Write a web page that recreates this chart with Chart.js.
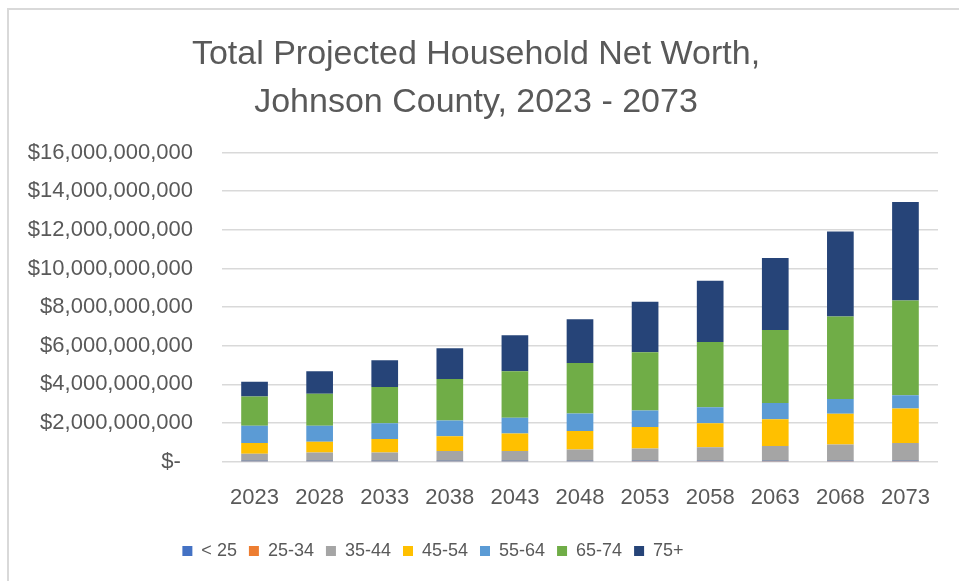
<!DOCTYPE html>
<html>
<head>
<meta charset="utf-8">
<title>Total Projected Household Net Worth</title>
<script src="https://cdn.jsdelivr.net/npm/chart.js@4"></script>
<style>
  html, body { margin: 0; padding: 0; background: #fff; }
  #wrap { position: relative; width: 959px; height: 581px; overflow: hidden; }
  #frame {
    position: absolute; left: 7px; top: 8px; width: 1000px; height: 700px;
    border: 2px solid #d9d9d9; pointer-events: none;
  }
</style>
</head>
<body>
<div id="wrap">
  <canvas id="netWorthChart" width="959" height="581"></canvas>
  <div id="frame"></div>
</div>
<script>
// values in billions of dollars
const BILLION = 1e9;
const years = ['2023', '2028', '2033', '2038', '2043', '2048', '2053', '2058', '2063', '2068', '2073'];
const under25 = [0.004, 0.004, 0.004, 0.005, 0.005, 0.005, 0.005, 0.006, 0.006, 0.006, 0.007];
const age25to34 = [0.015, 0.016, 0.017, 0.018, 0.018, 0.019, 0.020, 0.021, 0.022, 0.023, 0.024];
const age35to44 = [0.39, 0.45, 0.45, 0.53, 0.53, 0.60, 0.65, 0.72, 0.78, 0.85, 0.93];
const age45to54 = [0.55, 0.56, 0.70, 0.76, 0.90, 0.96, 1.12, 1.24, 1.39, 1.60, 1.79];
const age55to64 = [0.90, 0.83, 0.82, 0.82, 0.82, 0.90, 0.85, 0.83, 0.83, 0.76, 0.69];
const age65to74 = [1.51, 1.65, 1.87, 2.14, 2.41, 2.62, 3.01, 3.38, 3.79, 4.27, 4.90];
const age75plus = [0.76, 1.17, 1.38, 1.59, 1.86, 2.27, 2.62, 3.17, 3.72, 4.41, 5.10];
const yTicks = [0, 2, 4, 6, 8, 10, 12, 14, 16];

const TEXT = '#595959';
const FONT = 'Liberation Sans';

function series(label, values, color) {
  return {
    label: label,
    data: values.map(v => v * BILLION),
    backgroundColor: color,
    borderWidth: 0,
    barPercentage: 0.41,
    categoryPercentage: 1
  };
}

// Legend is centred under the whole chart in Excel, a bit left of the canvas centre
const legendShift = {
  id: 'legendShift',
  afterLayout(chart) {
    const dx = -43;
    chart.legend.left += dx;
    chart.legend.right += dx;
  }
};

const ctx = document.getElementById('netWorthChart').getContext('2d');
new Chart(ctx, {
  type: 'bar',
  data: {
    labels: years,
    datasets: [
      series('< 25', under25, '#4472C4'),
      series('25-34', age25to34, '#ED7D31'),
      series('35-44', age35to44, '#A5A5A5'),
      series('45-54', age45to54, '#FFC000'),
      series('55-64', age55to64, '#5B9BD5'),
      series('65-74', age65to74, '#70AD47'),
      series('75+', age75plus, '#264478')
    ]
  },
  options: {
    responsive: false,
    animation: false,
    layout: { padding: { left: 14, right: 21, top: 0, bottom: 11 } },
    plugins: {
      title: {
        display: true,
        text: ['Total Projected Household Net Worth,', 'Johnson County, 2023 - 2073'],
        color: TEXT,
        font: { family: FONT, size: 34, weight: 'normal', lineHeight: 1.42 },
        padding: { top: 30, bottom: 26 }
      },
      legend: {
        position: 'bottom',
        labels: {
          color: TEXT,
          font: { family: FONT, size: 18 },
          boxWidth: 10,
          boxHeight: 10,
          padding: 12
        }
      },
      tooltip: { enabled: false }
    },
    scales: {
      x: {
        stacked: true,
        grid: { display: false, drawTicks: false },
        border: { display: false },
        ticks: { color: TEXT, font: { family: FONT, size: 22 }, padding: 23, maxRotation: 0 },
        afterFit: scale => { scale.height -= 4; }
      },
      y: {
        stacked: true,
        min: 0,
        max: yTicks[yTicks.length - 1] * BILLION,
        afterBuildTicks: scale => { scale.ticks = yTicks.map(v => ({ value: v * BILLION })); },
        grid: { color: '#d9d9d9', lineWidth: 1.5, drawTicks: false },
        border: { display: false },
        ticks: {
          color: TEXT,
          font: { family: FONT, size: 22 },
          padding: 29,
          callback: function(value) {
            if (value === 0) {
              return '$-  ';
            }
            return '$' + Number(value).toLocaleString('en-US');
          }
        },
        afterFit: scale => { scale.width = 208; }
      }
    }
  },
  plugins: [legendShift]
});
</script>
</body>
</html>
